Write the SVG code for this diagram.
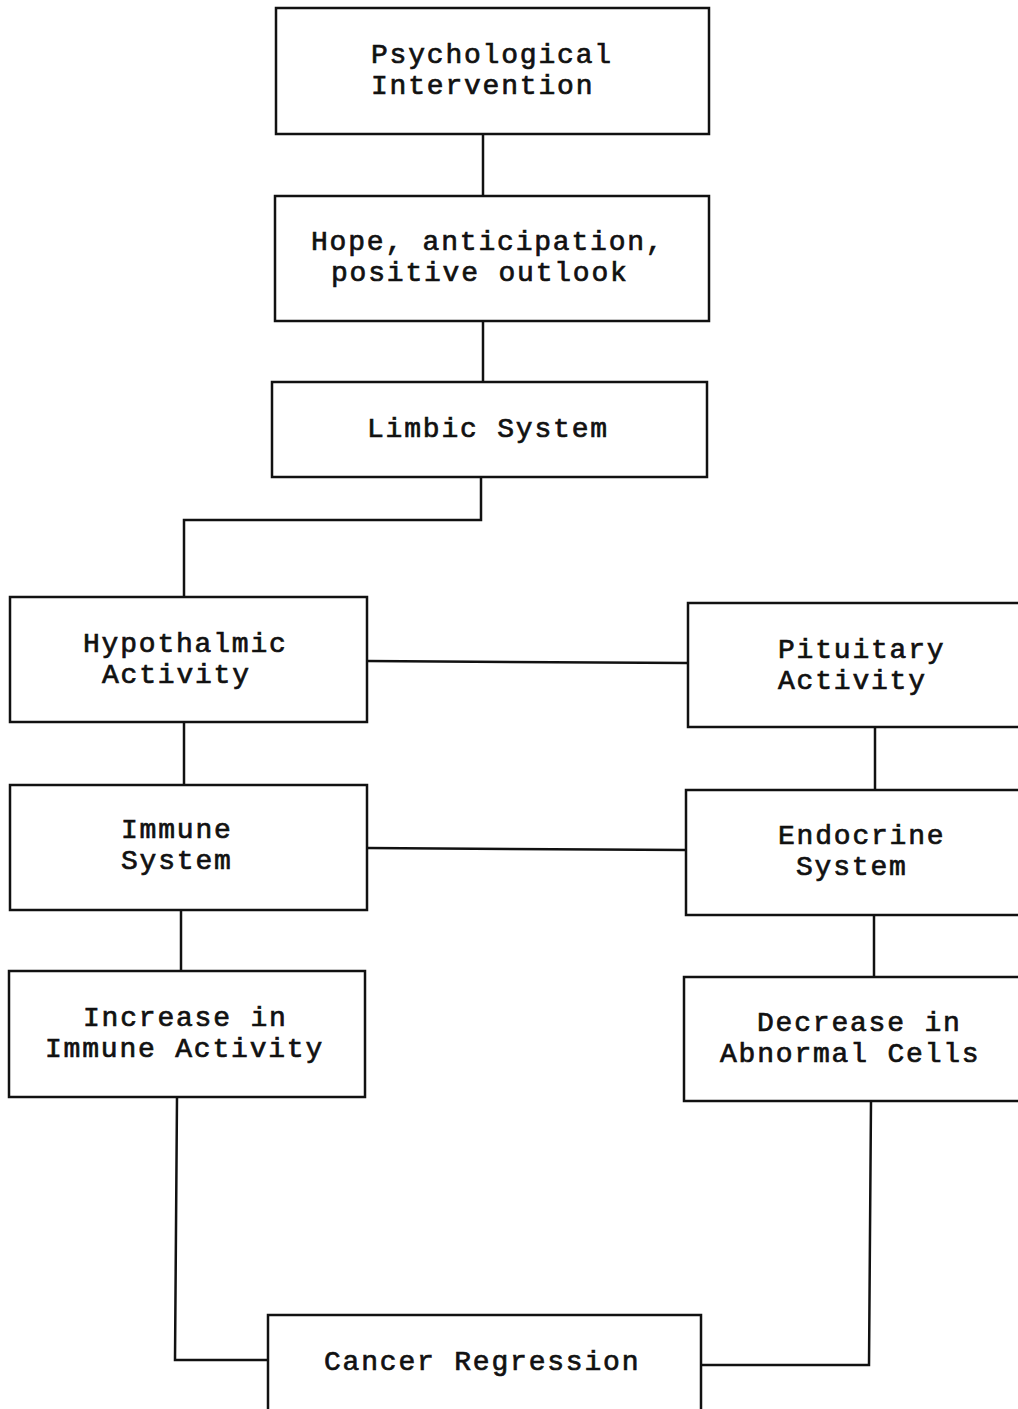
<svg xmlns="http://www.w3.org/2000/svg" width="1018" height="1409" viewBox="0 0 1018 1409">
<style>
.box{fill:#fff;stroke:#111;stroke-width:2.5}
.lbl{font-family:"Courier New","Nimbus Mono PS","FreeMono","Liberation Mono",monospace;font-size:28px;letter-spacing:1.8px;fill:#111;stroke:#111;stroke-width:0.7}
.con{fill:none;stroke:#111;stroke-width:2.5}
</style>
<rect width="1018" height="1409" fill="#fff"/>
<g id="connectors">
<path class="con" d="M483,134 V196"/>
<path class="con" d="M483,321 V382"/>
<path class="con" d="M481,477 V520 H184 V597"/>
<path class="con" d="M367,661 L688,663"/>
<path class="con" d="M184,722 V785"/>
<path class="con" d="M875,727 V790"/>
<path class="con" d="M367,848 L686,850"/>
<path class="con" d="M181,910 V971"/>
<path class="con" d="M874,915 V977"/>
<path class="con" d="M177,1097 L175,1360 H268"/>
<path class="con" d="M871,1101 L869,1365 H701"/>
</g>
<g id="n1"><rect class="box" x="276" y="8" width="433" height="126"/>
<text class="lbl" x="371" y="63">Psychological</text><text class="lbl" x="371" y="94">Intervention</text></g>
<g id="n2"><rect class="box" x="275" y="196" width="434" height="125"/>
<text class="lbl" x="311" y="250">Hope, anticipation,</text><text class="lbl" x="331" y="281">positive outlook</text></g>
<g id="n3"><rect class="box" x="272" y="382" width="435" height="95"/>
<text class="lbl" x="367" y="437">Limbic System</text></g>
<g id="n4"><rect class="box" x="10" y="597" width="357" height="125"/>
<text class="lbl" x="83" y="652">Hypothalmic</text><text class="lbl" x="102" y="683">Activity</text></g>
<g id="n5"><rect class="box" x="688" y="603" width="345" height="124"/>
<text class="lbl" x="778" y="658">Pituitary</text><text class="lbl" x="778" y="689">Activity</text></g>
<g id="n6"><rect class="box" x="10" y="785" width="357" height="125"/>
<text class="lbl" x="121" y="838">Immune</text><text class="lbl" x="121" y="869">System</text></g>
<g id="n7"><rect class="box" x="686" y="790" width="347" height="125"/>
<text class="lbl" x="778" y="844">Endocrine</text><text class="lbl" x="796" y="875">System</text></g>
<g id="n8"><rect class="box" x="9" y="971" width="356" height="126"/>
<text class="lbl" x="83" y="1026">Increase in</text><text class="lbl" x="45" y="1057">Immune Activity</text></g>
<g id="n9"><rect class="box" x="684" y="977" width="349" height="124"/>
<text class="lbl" x="757" y="1031">Decrease in</text><text class="lbl" x="720" y="1062">Abnormal Cells</text></g>
<g id="n10"><rect class="box" x="268" y="1315" width="433" height="110"/>
<text class="lbl" x="324" y="1370">Cancer Regression</text></g>
</svg>
